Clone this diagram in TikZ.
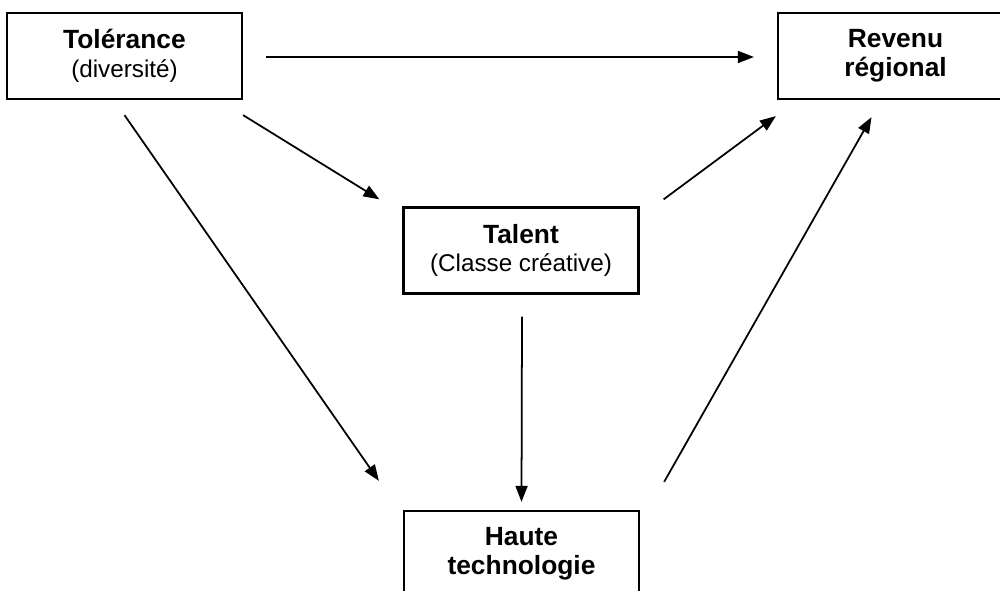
\documentclass[tikz,border=0pt]{standalone}
\usepackage{fontspec}
\setmainfont{Liberation Sans}
\usetikzlibrary{arrows.meta,calc}
\tikzstyle{bx}=[rectangle,draw=black,line width=1.3pt,minimum width=4.7cm,minimum height=1.72cm,align=center,inner sep=0pt,font=\fontsize{13.8}{16.4}\selectfont]
\tikzstyle{arr}=[line width=1pt,-{Triangle[length=0.32cm,width=0.24cm]}]
\newcommand{\hd}[1]{{\fontsize{15}{16.4}\selectfont\bfseries #1}}

\begin{document}
\begin{tikzpicture}[x=0.02cm,y=-0.02cm]
\useasboundingbox (0,0) rectangle (1000,591);
\clip (0,0) rectangle (1000,591);
\node[bx] (tol) at (124.5,56) {\hd{Tolérance}\\(diversité)};
\node[bx] (rev) at (895.5,56) {\hd{Revenu}\\\hd{régional}};
\node[bx] (tal) at (521,250.5) {\hd{Talent}\\(Classe créative)};
\node[bx] (hau) at (521.5,554) {\hd{Haute}\\\hd{technologie}};
\draw[arr] ($(tol.east)+(23,1)$) -- ($(rev.west)+(-23,1)$);
\draw[arr] ($(tol.south east)+(0,15)$) -- ($(tal.north west)+(-23,-7)$);
\draw[arr] ($(tol.south)+(0,15)$) -- ($(hau.north west)+(-24,-29)$);
\draw[arr] ($(tal.north east)+(24,-7)$) -- ($(rev.south west)+(-1,16)$);
\draw[arr] ($(tal.south)+(1,22)$) -- ($(hau.north)+(0,-8)$);
\draw[arr] ($(hau.north east)+(24,-28)$) -- ($(rev.south)+(-24,17)$);
\end{tikzpicture}
\end{document}
